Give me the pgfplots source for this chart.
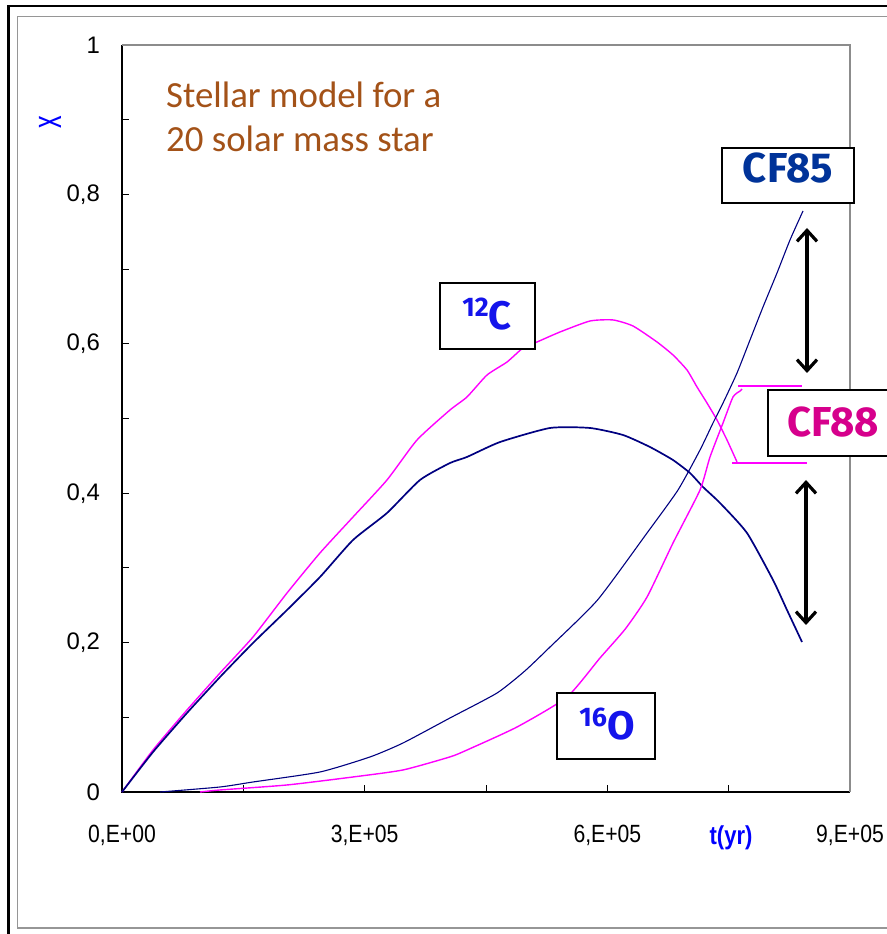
\documentclass[border=0pt]{standalone}
\usepackage{pgfplots}
\pgfplotsset{compat=1.18}
\usepackage{fontspec}
\setmainfont{Liberation Sans}
\newfontfamily\narrowfont[FakeStretch=0.85]{Liberation Sans}
\newfontfamily\titlefont{Carlito}
\newfontfamily\labfont{Fira Sans}
\usetikzlibrary{arrows.meta}
\definecolor{navy}{RGB}{0,0,128}
\definecolor{mag}{RGB}{255,0,255}
\definecolor{cfblue}{RGB}{0,51,153}
\definecolor{cfpink}{RGB}{214,0,140}
\definecolor{isoblue}{RGB}{20,20,235}
\definecolor{titlebrown}{RGB}{163,82,24}
\definecolor{framegray}{RGB}{150,150,150}
\definecolor{axgray}{RGB}{140,140,140}

\pgfplotstableread{
x y
0 0
38324 0.0562
80357 0.1098
121153 0.1593
161950 0.2075
203983 0.2664
244779 0.3200
285576 0.3681
327609 0.4177
364697 0.4712
405493 0.5114
426510 0.5288
451235 0.5582
475960 0.5756
495740 0.5944
513048 0.6024
541482 0.6158
578570 0.6305
607004 0.6319
631729 0.6238
661399 0.6024
681179 0.5850
698486 0.5649
710849 0.5422
723212 0.5207
735574 0.4980
747937 0.4712
760300 0.4418
}\cfeightyeightC

\pgfplotstableread{
x y
0 0
38324 0.0535
80357 0.1058
121153 0.1539
161950 0.1995
203983 0.2436
244779 0.2878
285576 0.3373
327609 0.3735
368405 0.4177
405493 0.4404
426510 0.4485
467307 0.4685
529120 0.4873
578570 0.4873
619366 0.4779
652745 0.4618
681179 0.4444
702195 0.4270
718267 0.4083
739285 0.3869
772663 0.3467
804806 0.2838
822113 0.2436
840657 0.2008
}\cfeightyfiveC

\pgfplotstableread{
x y
46978 0
121153 0.0067
161950 0.0134
244779 0.0268
306592 0.0469
347389 0.0656
405493 0.0991
463597 0.1325
498000 0.1620
529120 0.1941
587842 0.2570
649055 0.3467
687361 0.4043
714558 0.4578
730630 0.4940
742993 0.5207
760300 0.5609
776371 0.6051
792442 0.6493
809750 0.6948
825821 0.7390
841893 0.7778
}\cfeightyfiveO

\pgfplotstableread{
x y
96430 0
121153 0.0027
203983 0.0094
285576 0.0201
347389 0.0295
405493 0.0470
426510 0.0562
488320 0.0870
550133 0.1272
590932 0.1794
622000 0.2180
649055 0.2610
681179 0.3333
714558 0.4043
726921 0.4485
742993 0.4940
755356 0.5288
764010 0.5368
766483 0.5395
}\cfeightyeightO

\begin{document}
\begin{tikzpicture}[x=1bp,y=1bp]
\useasboundingbox (0,0) rectangle (887,934);
\clip (0,0) rectangle (887,934);
% outer frames
\draw[black, line width=2.6bp] (8.7,-10) -- (8.7,927.8) -- (900,927.8);
\draw[framegray, line width=1.3bp] (17.2,6) rectangle (900,917.2);

\begin{axis}[
  at={(122bp,142bp)}, anchor=south west,
  scale only axis, width=728bp, height=747bp,
  xmin=0, xmax=900000, ymin=0, ymax=1,
  axis line style={draw=none},
  scaled x ticks=false, scaled y ticks=false,
  xtick={0,150000,300000,450000,600000,750000,900000},
  xticklabels={{0,E+00},{},{3,E+05},{},{6,E+05},{},{9,E+05}},
  ytick={0,0.1,0.2,0.3,0.4,0.5,0.6,0.7,0.8,0.9,1},
  yticklabels={{0},{},{0,2},{},{0,4},{},{0,6},{},{0,8},{},{1}},
  xtick pos=bottom, ytick pos=left,
  tick align=inside, major tick length=7bp,
  tick style={black, line width=1bp},
  xticklabel style={anchor=center, yshift=-43bp, inner sep=0pt, font=\narrowfont\fontsize{25}{25}\selectfont},
  yticklabel style={anchor=east, xshift=-22bp, inner sep=0pt, font=\fontsize{24}{24}\selectfont},
  clip=false,
]
\draw[black, line width=1.3bp] (rel axis cs:0,1) -- (rel axis cs:0,0) -- (rel axis cs:1,0);
\draw[axgray, line width=1.3bp] (rel axis cs:0,1) -- (rel axis cs:1,1) -- (rel axis cs:1,0);
\addplot[mag, line width=1.4bp, smooth, tension=0.35] table {\cfeightyeightC};
\addplot[navy, line width=1.7bp, smooth, tension=0.35] table {\cfeightyfiveC};
\addplot[navy, line width=1.1bp, smooth, tension=0.35] table {\cfeightyfiveO};
\addplot[mag, line width=1.4bp, smooth, tension=0.35] table {\cfeightyeightO};
\end{axis}

% axis titles
\node[rotate=90, text=blue, inner sep=0pt] at (50,812) {\scalebox{0.6}[1]{\fontsize{42}{42}\selectfont x}};
\node[text=blue, inner sep=0pt] at (731,96) {\narrowfont\fontsize{26}{26}\selectfont\bfseries t(yr)};

% title text
\node[anchor=base west, inner sep=0pt, text=titlebrown] at (166,826) {\titlefont\fontsize{37}{37}\selectfont Stellar model for a};
\node[anchor=base west, inner sep=0pt, text=titlebrown] at (166,782) {\titlefont\fontsize{37}{37}\selectfont 20 solar mass star};

% CF88 range lines
\draw[mag, line width=2.2bp] (738,548) -- (802,548);
\draw[mag, line width=2.2bp] (732,471) -- (807,471);

% arrows
\draw[line width=3.2bp, {Straight Barb[length=11bp,width=20bp]}-{Straight Barb[length=11bp,width=20bp]}] (807,706) -- (807,561);
\draw[line width=3.2bp, {Straight Barb[length=11bp,width=20bp]}-{Straight Barb[length=11bp,width=20bp]}] (806,454) -- (806,309);

% boxes
\draw[black, line width=2.6bp, fill=white] (722,731) rectangle (854,786);
\node[anchor=base, inner sep=0pt, text=cfblue] at (788,751) {\labfont\bfseries\fontsize{42}{42}\selectfont CF85};
\draw[black, line width=2.6bp, fill=white] (768,478) rectangle (905,544);
\node[anchor=base, inner sep=0pt, text=cfpink] at (833,497) {\labfont\bfseries\fontsize{42}{42}\selectfont CF88};
\draw[black, line width=2.6bp, fill=white] (440,585) rectangle (535,651);
\node[anchor=base, inner sep=0pt, text=isoblue] at (487,604) {\labfont\bfseries{\fontsize{27}{27}\selectfont\raisebox{13bp}{12}}{\fontsize{40}{40}\selectfont C}};
\draw[black, line width=2.6bp, fill=white] (557,175) rectangle (655,241);
\node[anchor=base, inner sep=0pt, text=isoblue] at (607,194) {\labfont\bfseries{\fontsize{27}{27}\selectfont\raisebox{13bp}{16}}{\fontsize{40}{40}\selectfont O}};
\end{tikzpicture}
\end{document}
